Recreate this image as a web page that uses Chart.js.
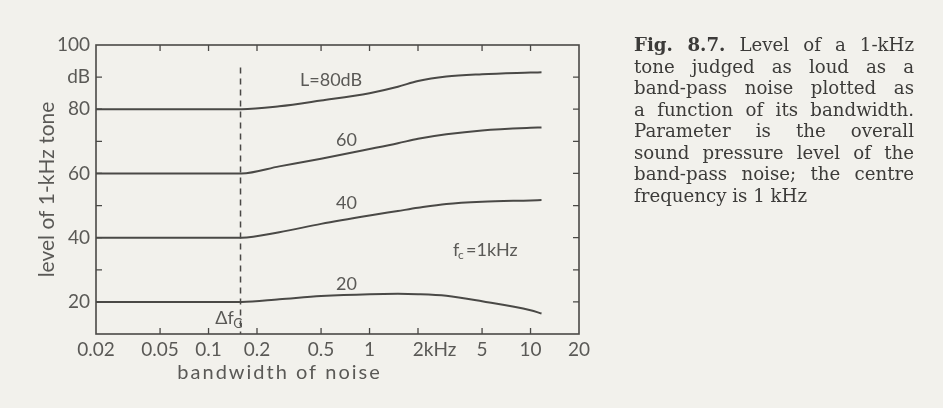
<html>
<head>
	<title>Fig. 8.7</title>
	<meta charset="utf-8">
	<script src="https://cdn.jsdelivr.net/npm/chart.js"></script>
	<style>
		body { margin: 0; background: #f2f1ec; }
		#wrap { position: relative; width: 943px; height: 408px; }
		#caption {
			position: absolute; left: 634px; top: 34px; width: 280px;
			font-family: "DejaVu Serif", serif; font-size: 18.2px; line-height: 21.5px;
			color: #3c3b39;
		}
		#caption div { text-align: justify; text-align-last: justify; white-space: nowrap; }
		#caption div.last { text-align-last: left; }
	</style>
</head>
<body>
	<div id="wrap">
		<canvas id="chart" width="943" height="408"></canvas>
		<div id="caption">
			<div><b>Fig. 8.7.</b> Level of a 1-kHz</div>
			<div>tone judged as loud as a</div>
			<div>band-pass noise plotted as</div>
			<div>a function of its bandwidth.</div>
			<div>Parameter is the overall</div>
			<div>sound pressure level of the</div>
			<div>band-pass noise; the centre</div>
			<div class="last">frequency is 1 kHz</div>
		</div>
	</div>
	<script>
		// bandwidth of noise in kHz
		const bandwidthKHz = [0.02, 0.16, 0.275, 0.5, 1, 1.5, 2, 3, 5, 10, 11.7];
		// level of the equally loud 1-kHz tone (dB) for each noise level L
		const level80 = [80, 80, 80.9, 82.7, 85, 87, 88.8, 90.2, 90.9, 91.4, 91.5];
		const level60 = [60, 60, 62.2, 64.6, 67.6, 69.4, 70.8, 72.2, 73.4, 74.2, 74.3];
		const level40 = [40, 40, 41.7, 44.3, 46.9, 48.3, 49.3, 50.5, 51.2, 51.6, 51.7];
		const level20 = [20, 20, 20.8, 21.8, 22.4, 22.5, 22.4, 21.9, 20.2, 17.4, 16.4];
		const seriesNames = ['L=80dB', '60', '40', '20'];

		// critical bandwidth marker
		const deltaFG = 0.158;
		const deltaFGLevels = [93, 10];

		const xTickValues = [0.02, 0.05, 0.1, 0.2, 0.5, 1, 2, 5, 10, 20];
		const xTickLabels = ['0.02', '0.05', '0.1', '0.2', '0.5', '1', '\u2007\u2007\u20072kHz', '5', '10', '20'];
		const yTickValues = [20, 30, 40, 50, 60, 70, 80, 90, 100];
		const yTickLabels = ['20', '', '40', '', '60', '', '80', 'dB', '100'];

		const ink = '#4a4946';
		const textInk = '#5a5956';
		const sans = 'Lato, "Open Sans", sans-serif';

		function toPoints(ys) {
			return bandwidthKHz.map((x, i) => ({x: x, y: ys[i]}));
		}

		const curveStyle = {
			borderColor: ink, borderWidth: 2, pointRadius: 0,
			cubicInterpolationMode: 'monotone', fill: false
		};

		// frame, inward ticks and in-plot labels
		const decorations = {
			id: 'decorations',
			afterDatasetsDraw(chart) {
				const {ctx, chartArea: a, scales: {x, y}} = chart;
				ctx.save();
				ctx.strokeStyle = ink;
				ctx.lineWidth = 1.6;
				ctx.strokeRect(a.left, a.top, a.right - a.left, a.bottom - a.top);
				ctx.lineWidth = 1.3;
				ctx.beginPath();
				xTickValues.slice(1, -1).forEach(v => {
					const px = x.getPixelForValue(v);
					ctx.moveTo(px, a.bottom); ctx.lineTo(px, a.bottom - 6);
					ctx.moveTo(px, a.top); ctx.lineTo(px, a.top + 6);
				});
				yTickValues.slice(0, -1).forEach(v => {
					const py = y.getPixelForValue(v);
					ctx.moveTo(a.left, py); ctx.lineTo(a.left + 6, py);
					ctx.moveTo(a.right, py); ctx.lineTo(a.right - 6, py);
				});
				ctx.stroke();

				ctx.fillStyle = textInk;
				ctx.textBaseline = 'middle';
				ctx.textAlign = 'left';
				ctx.font = '18px ' + sans;
				const put = (txt, fx, ly) => ctx.fillText(txt, x.getPixelForValue(fx), y.getPixelForValue(ly));
				put(seriesNames[0], 0.37, 89);
				put(seriesNames[1], 0.62, 70.3);
				put(seriesNames[2], 0.62, 50.6);
				put(seriesNames[3], 0.62, 25.6);

				// f_c = 1kHz
				let px = x.getPixelForValue(3.3), py = y.getPixelForValue(36);
				ctx.fillText('f', px, py);
				ctx.font = '12px ' + sans;
				ctx.fillText('c', px + 5, py + 5);
				ctx.font = '18px ' + sans;
				ctx.fillText('=1kHz', px + 13, py);

				// delta f_G
				px = x.getPixelForValue(0.11); py = y.getPixelForValue(14.8);
				ctx.fillText('\u0394f', px, py);
				ctx.font = '13px ' + sans;
				ctx.fillText('G', px + 18, py + 5);

				// x axis title
				ctx.font = '20px ' + sans;
				ctx.letterSpacing = '2px';
				ctx.fillText('bandwidth of noise', x.getPixelForValue(0.064), 373);
				ctx.restore();
			}
		};

		new Chart(document.getElementById('chart'), {
			type: 'line',
			data: {
				datasets: [
					Object.assign({label: seriesNames[0], data: toPoints(level80)}, curveStyle),
					Object.assign({label: seriesNames[1], data: toPoints(level60)}, curveStyle),
					Object.assign({label: seriesNames[2], data: toPoints(level40)}, curveStyle),
					Object.assign({label: seriesNames[3], data: toPoints(level20)}, curveStyle),
					{
						label: 'critical bandwidth',
						data: deltaFGLevels.map(v => ({x: deltaFG, y: v})),
						borderColor: ink, borderWidth: 1.5, borderDash: [6, 5],
						pointRadius: 0, fill: false
					}
				]
			},
			options: {
				responsive: false,
				animation: false,
				layout: {padding: {top: 45, right: 364, left: 0, bottom: 0}},
				plugins: {legend: {display: false}, tooltip: {enabled: false}},
				scales: {
					x: {
						type: 'logarithmic', min: 0.02, max: 20,
						afterBuildTicks: s => { s.ticks = xTickValues.map(v => ({value: v})); },
						afterFit: s => { s.height = 74; },
						grid: {display: false, drawTicks: false},
						border: {display: false},
						ticks: {
							autoSkip: false, maxRotation: 0, padding: 4, color: textInk,
							font: {family: sans, size: 19},
							callback: (v, i) => xTickLabels[i]
						}
					},
					y: {
						min: 10, max: 100,
						afterBuildTicks: s => { s.ticks = yTickValues.map(v => ({value: v})); },
						afterFit: s => { s.width = 96; },
						grid: {display: false, drawTicks: false},
						border: {display: false},
						ticks: {
							padding: 6, color: textInk,
							font: {family: sans, size: 19},
							callback: (v, i) => yTickLabels[i]
						},
						title: {
							display: true, text: 'level of 1-kHz tone', color: textInk,
							font: {family: sans, size: 21}, padding: {top: 35, bottom: 0}
						}
					}
				}
			},
			plugins: [decorations]
		});
	</script>
</body>
</html>
